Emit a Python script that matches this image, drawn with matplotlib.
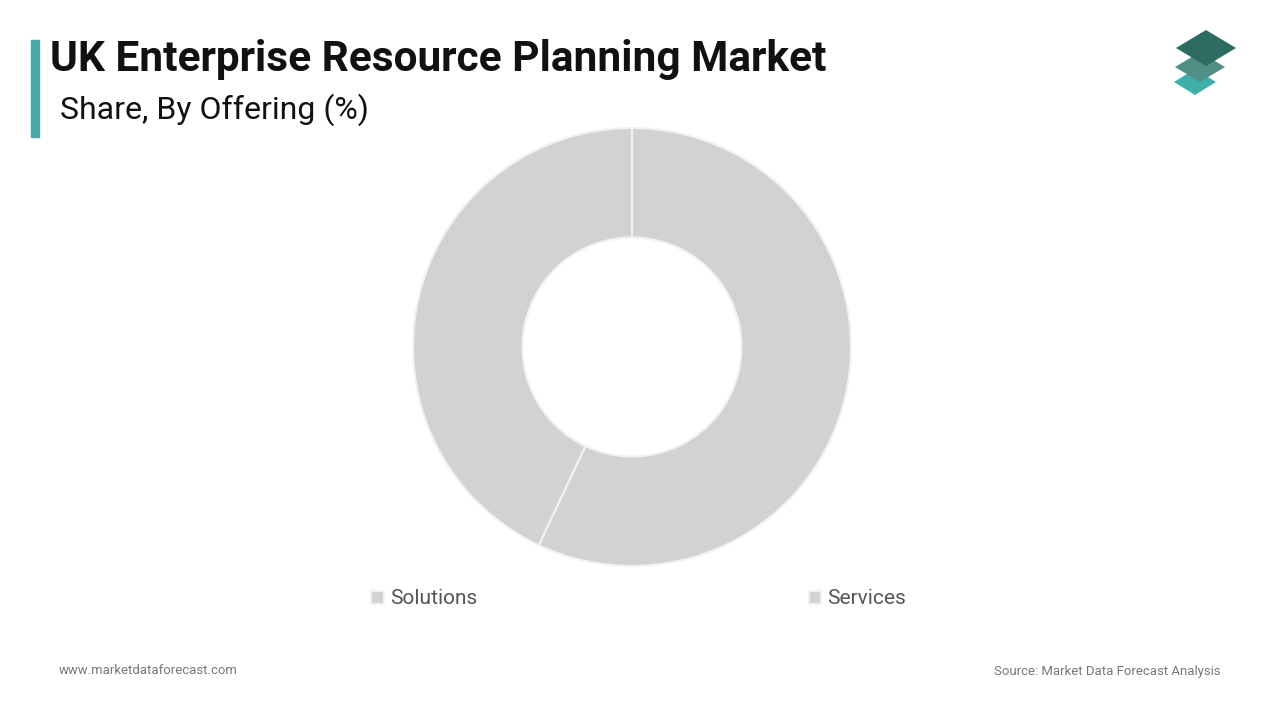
import matplotlib
matplotlib.use("Agg")
import matplotlib.pyplot as plt
from matplotlib.patches import Polygon, Rectangle

# data
labels = ["Solutions", "Services"]
shares = [57, 43]
colors = ["#d3d2d3", "#d3d2d3"]

title = "UK Enterprise Resource Planning Market"
subtitle = "Share, By Offering (%)"
footer_left = "www.marketdataforecast.com"
footer_right = "Source: Market Data Forecast Analysis"

plt.rcParams["font.family"] = ["Roboto", "DejaVu Sans"]

W, H = 1280, 720
fig = plt.figure(figsize=(12.8, 7.2), dpi=100, facecolor="white")

# donut: centre (632, 347), outer radius 219 px
cx, cy, r = 632, 347, 219
ax = fig.add_axes([(cx - r) / W, 1 - (cy + r) / H, 2 * r / W, 2 * r / H])
wedges, _ = ax.pie(shares, colors=colors, startangle=90, counterclock=False,
                   radius=1.0,
                   wedgeprops=dict(width=0.5, edgecolor="#f2f2f2", linewidth=1.5))
ax.set_xlim(-1, 1)
ax.set_ylim(-1, 1)
ax.set_aspect("equal")
ax.axis("off")

leg = fig.legend(wedges, labels, loc="center", bbox_to_anchor=(0.499, 1 - 599 / H),
                 ncol=2, frameon=False, fontsize=15, handlelength=0.6,
                 handleheight=0.6, handletextpad=0.3, columnspacing=15.9)
for t in leg.get_texts():
    t.set_color("#555555")

# title block
fig.patches.append(Rectangle((31 / W, 1 - 137 / H), 8 / W, 97 / H,
                             transform=fig.transFigure, color="#4aa9a6"))
fig.text(50 / W, 1 - 59 / H, title, fontsize=30.5, fontweight="bold",
         color="#111111", va="center", ha="left")
fig.text(60 / W, 1 - 110 / H, subtitle, fontsize=23, color="#111111",
         va="center", ha="left")

# logo: three stacked diamonds
def diamond(xc, yc, w, h, col):
    pts = [((xc - w / 2) / W, 1 - yc / H), (xc / W, 1 - (yc - h / 2) / H),
           ((xc + w / 2) / W, 1 - yc / H), (xc / W, 1 - (yc + h / 2) / H)]
    fig.patches.append(Polygon(pts, closed=True, transform=fig.transFigure,
                               facecolor=col, edgecolor="none"))

diamond(1195, 82, 42, 26, "#3fb0a9")
diamond(1200, 67, 50, 30, "#4f8f86")
diamond(1206, 48, 60, 36, "#2e6b63")

fig.text(59 / W, 1 - 671 / H, footer_left, fontsize=9.45, color="#777777",
         va="center", ha="left")
fig.text(1221 / W, 1 - 671 / H, footer_right, fontsize=9.45, color="#777777",
         va="center", ha="right")

fig.savefig("out.png", dpi=100, facecolor="white")
